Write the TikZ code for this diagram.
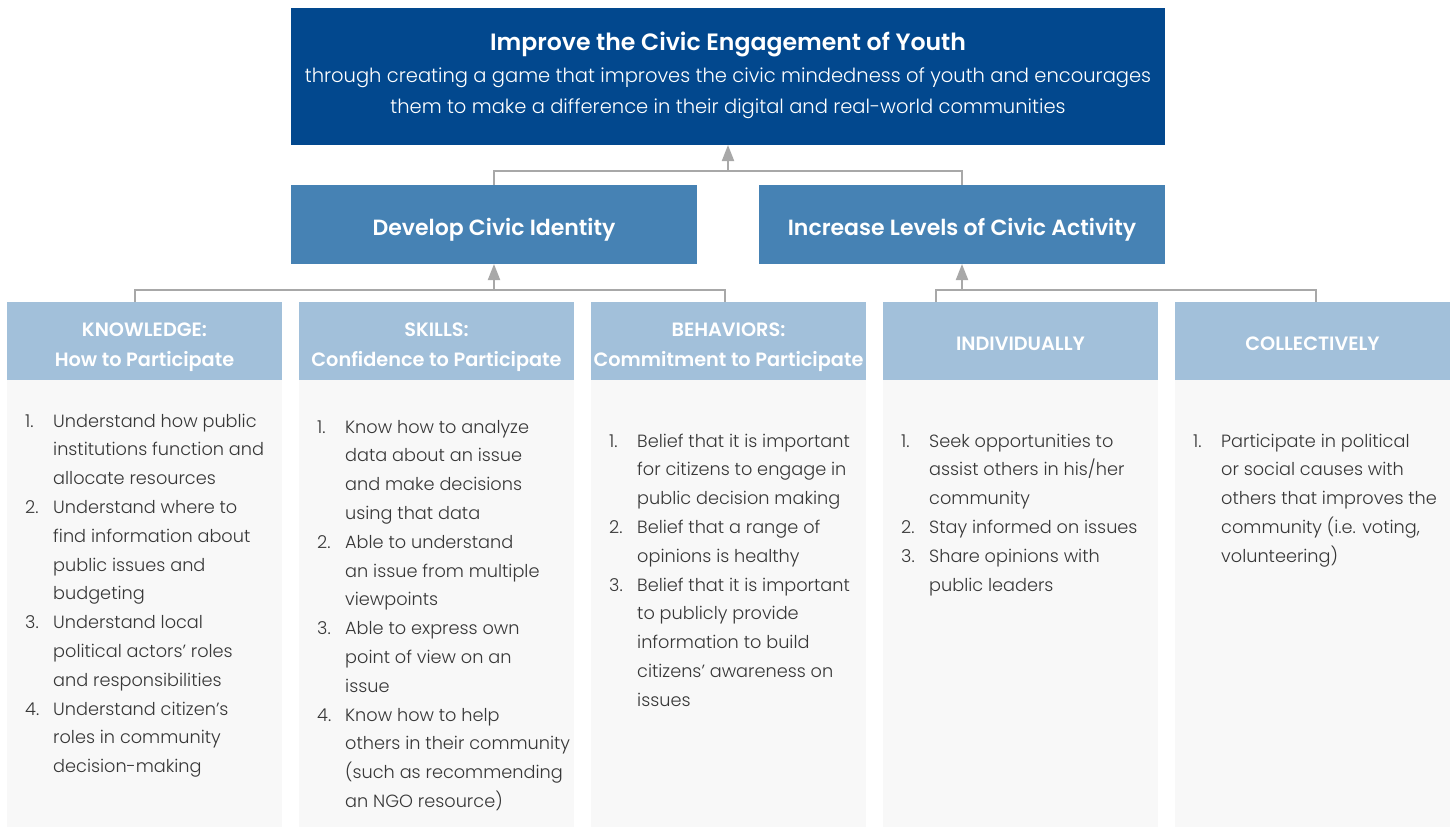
\documentclass[tikz,border=0pt]{standalone}
\usepackage{fontspec}
\usetikzlibrary{arrows.meta}
\IfFontExistsTF{Poppins Light}{\newfontfamily\bodyfont{Poppins Light}}{\newfontfamily\bodyfont{Poppins}}
\IfFontExistsTF{Poppins SemiBold}{\newfontfamily\headfont{Poppins SemiBold}}{%
  \IfFontExistsTF{Poppins Medium}{\newfontfamily\headfont{Poppins Medium}}{\newfontfamily\headfont{Poppins}}}
\definecolor{topblue}{RGB}{2,72,142}
\definecolor{midblue}{RGB}{70,130,180}
\definecolor{hdrblue}{RGB}{162,192,218}
\definecolor{bodygray}{RGB}{248,248,248}
\definecolor{linegray}{RGB}{168,168,168}
\definecolor{bodytext}{RGB}{55,55,55}
\newcommand{\numlbl}[1]{\makebox[28pt][l]{#1}}
\begin{document}
\begin{tikzpicture}[x=1pt,y=-1pt,
  box/.style={draw=none, inner sep=0pt, outer sep=0pt, anchor=north west},
  topbox/.style={box, fill=topblue, minimum width=874pt, minimum height=137pt},
  midbox/.style={box, fill=midblue, minimum width=406pt, minimum height=79pt},
  hdrbox/.style={box, fill=hdrblue, minimum width=275pt, minimum height=78pt},
  bodybox/.style={box, fill=bodygray, minimum width=275pt, minimum height=447pt},
  conn/.style={draw=linegray, line width=2pt},
  arr/.style={conn, -{Triangle[length=16pt,width=12pt]}},
  titletext/.style={text=white, inner sep=0pt, anchor=base, font=\headfont\fontsize{23.6}{29}\selectfont},
  subtext/.style={text=white, inner sep=0pt, anchor=base, font=\bodyfont\fontsize{19.5}{31}\selectfont},
  midtext/.style={text=white, inner sep=0pt, anchor=base, font=\headfont\fontsize{22}{29}\selectfont},
  hdrtext/.style={text=white, inner sep=0pt, anchor=base, font=\headfont\fontsize{19.3}{29}\selectfont},
  listtext/.style={text=bodytext, inner sep=0pt, anchor=base west, font=\bodyfont\fontsize{17.7}{28.8}\selectfont}]

\useasboundingbox (0,0) rectangle (1452,827);

% goal box
\node[topbox] (top) at (291,8) {};
\node[titletext] (title) at (728,50) {Improve the Civic Engagement of Youth};
\node[subtext] (sub1) at (728,82) {through creating a game that improves the civic mindedness of youth and encourages};
\node[subtext] (sub2) at (728,113) {them to make a difference in their digital and real-world communities};

% the two aims
\node[midbox] (dci) at (291,185) {};
\node[midbox] (ilca) at (759,185) {};
\node[midtext] (dcit) at (494,235) {Develop Civic Identity};
\node[midtext] (ilcat) at (962,235) {Increase Levels of Civic Activity};

% column headers
\node[hdrbox] (h1) at (7,302) {};
\node[hdrbox] (h2) at (299,302) {};
\node[hdrbox] (h3) at (591,302) {};
\node[hdrbox] (h4) at (883,302) {};
\node[hdrbox] (h5) at (1175,302) {};

% column bodies
\node[bodybox] (b1) at (7,380) {};
\node[bodybox] (b2) at (299,380) {};
\node[bodybox] (b3) at (591,380) {};
\node[bodybox] (b4) at (883,380) {};
\node[bodybox] (b5) at (1175,380) {};

\node[hdrtext] (h1a) at (144.5,336) {KNOWLEDGE:};
\node[hdrtext] (h1b) at (144.5,366) {How to Participate};
\node[hdrtext] (h2a) at (436.5,336) {SKILLS:};
\node[hdrtext] (h2b) at (436.5,366) {Confidence to Participate};
\node[hdrtext] (h3a) at (728.5,336) {BEHAVIORS:};
\node[hdrtext] (h3b) at (728.5,366) {Commitment to Participate};
\node[hdrtext] (h4a) at (1020.5,350) {INDIVIDUALLY};
\node[hdrtext] (h5a) at (1312.5,350) {COLLECTIVELY};

% numbered lists
\node[listtext] (l1) at (25,427) {\begin{tabular}[t]{@{}l@{}l@{}}
\numlbl{1.} & Understand how public\\
 & institutions function and\\
 & allocate resources\\
\numlbl{2.} & Understand where to\\
 & find information about\\
 & public issues and\\
 & budgeting\\
\numlbl{3.} & Understand local\\
 & political actors’ roles\\
 & and responsibilities\\
\numlbl{4.} & Understand citizen’s\\
 & roles in community\\
 & decision-making
\end{tabular}};

\node[listtext] (l2) at (317,433) {\begin{tabular}[t]{@{}l@{}l@{}}
\numlbl{1.} & Know how to analyze\\
 & data about an issue\\
 & and make decisions\\
 & using that data\\
\numlbl{2.} & Able to understand\\
 & an issue from multiple\\
 & viewpoints\\
\numlbl{3.} & Able to express own\\
 & point of view on an\\
 & issue\\
\numlbl{4.} & Know how to help\\
 & others in their community\\
 & (such as recommending\\
 & an NGO resource)
\end{tabular}};

\node[listtext] (l3) at (609,447) {\begin{tabular}[t]{@{}l@{}l@{}}
\numlbl{1.} & Belief that it is important\\
 & for citizens to engage in\\
 & public decision making\\
\numlbl{2.} & Belief that a range of\\
 & opinions is healthy\\
\numlbl{3.} & Belief that it is important\\
 & to publicly provide\\
 & information to build\\
 & citizens’ awareness on\\
 & issues
\end{tabular}};

\node[listtext] (l4) at (901,447) {\begin{tabular}[t]{@{}l@{}l@{}}
\numlbl{1.} & Seek opportunities to\\
 & assist others in his/her\\
 & community\\
\numlbl{2.} & Stay informed on issues\\
\numlbl{3.} & Share opinions with\\
 & public leaders
\end{tabular}};

\node[listtext] (l5) at (1193,447) {\begin{tabular}[t]{@{}l@{}l@{}}
\numlbl{1.} & Participate in political\\
 & or social causes with\\
 & others that improves the\\
 & community (i.e. voting,\\
 & volunteering)
\end{tabular}};

% connectors: aims to goal
\coordinate (jtop) at (728,171);
\draw[conn] (dci.north) |- (jtop) -| (ilca.north);
\draw[arr] (jtop) -- (top.south);

% connectors: left group to first aim
\coordinate (jl) at (494,290);
\coordinate (jl1) at (135,290);
\coordinate (jl3) at (725,290);
\draw[conn] (jl1 |- h1.north) -- (jl1) -- (jl3) -- (jl3 |- h3.north);
\draw[arr] (jl) -- (dci.south);

% connectors: right group to second aim
\coordinate (jr) at (962,290);
\coordinate (jr4) at (936,290);
\coordinate (jr5) at (1316,290);
\draw[conn] (jr4 |- h4.north) -- (jr4) -- (jr5) -- (jr5 |- h5.north);
\draw[arr] (jr) -- (ilca.south);
\end{tikzpicture}
\end{document}
